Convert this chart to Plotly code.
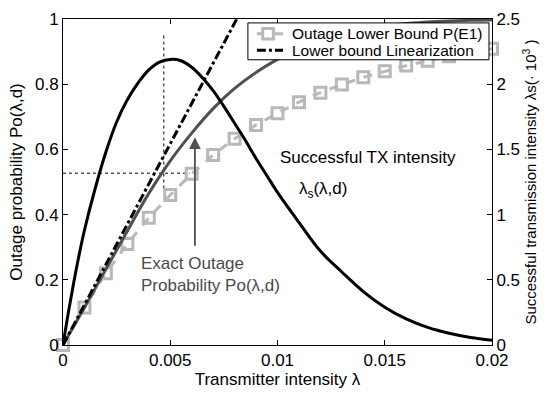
import plotly.graph_objects as go

# ---- data ----
lam_po = [0, 0.001, 0.002, 0.003, 0.004, 0.005, 0.006, 0.007, 0.008, 0.009, 0.010,
          0.011, 0.012, 0.013, 0.014, 0.015, 0.016, 0.017, 0.018, 0.019, 0.020]
po_exact = [0.0, 0.115, 0.232, 0.35, 0.465, 0.565, 0.65, 0.725, 0.787, 0.836, 0.876,
            0.91, 0.935, 0.955, 0.97, 0.98, 0.986, 0.991, 0.994, 0.996, 0.997]
po_lower = [0.0, 0.115, 0.22, 0.31, 0.39, 0.46, 0.525, 0.583, 0.633, 0.675, 0.711,
            0.745, 0.774, 0.799, 0.821, 0.84, 0.857, 0.872, 0.886, 0.898, 0.909]

lam_lin = [0.0, 0.0081]
po_lin = [0.0, 1.0]

lam_s = [0, 0.00025, 0.0005, 0.00075, 0.001, 0.0015, 0.002, 0.0025, 0.003, 0.0035,
         0.004, 0.0045, 0.005, 0.0055, 0.006, 0.0065, 0.007, 0.0075, 0.008, 0.0085,
         0.009, 0.0095, 0.010, 0.011, 0.012, 0.013, 0.014, 0.015, 0.016, 0.017,
         0.018, 0.019, 0.020]
succ = [0.0, 0.25, 0.48, 0.69, 0.88, 1.2, 1.48, 1.71, 1.88, 2.01,
        2.11, 2.17, 2.19, 2.18, 2.13, 2.05, 1.95, 1.83, 1.70, 1.57,
        1.43, 1.30, 1.17, 0.94, 0.72, 0.56, 0.41, 0.29, 0.20, 0.135,
        0.09, 0.058, 0.037]

vdot_x = [0.0047, 0.0047]
vdot_y = [0.48, 0.955]
hdot_x = [0.0, 0.0059]
hdot_y = [0.527, 0.527]

arrow_x = 0.00615
arrow_tail = 0.30
arrow_tip = 0.637

xticks = [0, 0.005, 0.01, 0.015, 0.02]
xticklabels = ["0", "0.005", "0.01", "0.015", "0.02"]
yticks = [0, 0.2, 0.4, 0.6, 0.8, 1]
yticklabels = ["0", "0.2", "0.4", "0.6", "0.8", "1"]
y2ticks = [0, 0.5, 1, 1.5, 2, 2.5]
y2ticklabels = ["0", "0.5", "1", "1.5", "2", "2.5"]

legend_labels = ["Outage Lower Bound P(E1)", "Lower bound Linearization"]

FONT = "Liberation Sans, Arial, Helvetica, sans-serif"
GRAY = "#b8b8b8"
DGRAY = "#505050"

fig = go.Figure()

# dotted guide lines
fig.add_trace(go.Scatter(x=vdot_x, y=vdot_y, mode="lines", showlegend=False,
                         line=dict(color="black", width=1, dash="dot")))
fig.add_trace(go.Scatter(x=hdot_x, y=hdot_y, mode="lines", showlegend=False,
                         line=dict(color="black", width=1, dash="dot")))

# lower bound P(E1)
fig.add_trace(go.Scatter(x=lam_po, y=po_lower, mode="lines+markers",
                         name=legend_labels[0], cliponaxis=False, showlegend=False,
                         line=dict(color=GRAY, width=3, dash="dash"),
                         marker=dict(symbol="square-open", size=11, color=GRAY,
                                     line=dict(width=3, color=GRAY))))
# exact outage probability
fig.add_trace(go.Scatter(x=lam_po, y=po_exact, mode="lines", showlegend=False,
                         line=dict(color=DGRAY, width=3, shape="spline", smoothing=1)))
# linearization
fig.add_trace(go.Scatter(x=lam_lin, y=po_lin, mode="lines", showlegend=False,
                         name=legend_labels[1],
                         line=dict(color="black", width=3, dash="dashdot")))
# successful transmission intensity (right axis)
fig.add_trace(go.Scatter(x=lam_s, y=succ, mode="lines", showlegend=False, yaxis="y2",
                         line=dict(color="black", width=3, shape="spline", smoothing=1)))

fig.add_annotation(x=arrow_x, y=arrow_tip, ax=arrow_x, ay=arrow_tail,
                   xref="x", yref="y", axref="x", ayref="y", text="",
                   showarrow=True, arrowhead=2, arrowsize=1.3, arrowwidth=1.8,
                   arrowcolor=DGRAY)
fig.add_annotation(x=0.00355, y=0.215, xref="x", yref="y", xanchor="left", yanchor="middle",
                   text="Exact Outage<br>Probability Po(λ,d)", showarrow=False, align="left",
                   font=dict(family=FONT, size=17, color="#4a4a4a"))
fig.add_annotation(x=0.0100, y=0.576, xref="x", yref="y", xanchor="left", yanchor="middle",
                   text="Successful TX intensity", showarrow=False,
                   font=dict(family=FONT, size=17, color="black"))
fig.add_annotation(x=0.0109, y=0.475, xref="x", yref="y", xanchor="left", yanchor="middle",
                   text="λ<sub>s</sub>(λ,d)", showarrow=False,
                   font=dict(family=FONT, size=17, color="black"))

# ---- legend box (drawn in paper coordinates) ----
lx0, lx1, ly0, ly1 = 0.431, 0.993, 0.875, 0.988
row_y = [0.955, 0.904]
sx0, sx1, mx = 0.452, 0.513, 0.478
fig.add_shape(type="rect", xref="paper", yref="paper", x0=lx0, x1=lx1, y0=ly0, y1=ly1,
              line=dict(color="black", width=1), fillcolor="white", layer="above")
fig.add_shape(type="line", xref="paper", yref="paper", x0=sx0, x1=sx1, y0=row_y[0], y1=row_y[0],
              line=dict(color=GRAY, width=3, dash="dash"), layer="above")
fig.add_shape(type="rect", xref="paper", yref="paper", x0=mx - 0.0125, x1=mx + 0.0125,
              y0=row_y[0] - 0.016, y1=row_y[0] + 0.016,
              line=dict(color=GRAY, width=3), fillcolor="white", layer="above")
fig.add_shape(type="line", xref="paper", yref="paper", x0=sx0, x1=sx1, y0=row_y[1], y1=row_y[1],
              line=dict(color="black", width=3, dash="dashdot"), layer="above")
for lbl, ry in zip(legend_labels, row_y):
    fig.add_annotation(x=0.528, y=ry, xref="paper", yref="paper", xanchor="left",
                       yanchor="middle", text=lbl, showarrow=False,
                       font=dict(family=FONT, size=15.5, color="black"))

axis_common = dict(showgrid=False, zeroline=False, showline=True, linecolor="black",
                   linewidth=1, ticks="inside", ticklen=5, tickcolor="black",
                   tickfont=dict(family=FONT, size=17, color="black"))

fig.update_layout(
    width=557, height=394,
    margin=dict(l=63, r=65, t=10, b=49),
    paper_bgcolor="white", plot_bgcolor="white",
    font=dict(family=FONT, size=16, color="black"),
    showlegend=False,
    xaxis=dict(range=[0, 0.02], tickvals=xticks, ticktext=xticklabels, mirror="ticks",
               title=dict(text="Transmitter intensity λ", standoff=1,
                          font=dict(family=FONT, size=17)),
               **axis_common),
    yaxis=dict(range=[0, 1], tickvals=yticks, ticktext=yticklabels,
               title=dict(text="Outage probability Po(λ,d)", standoff=8,
                          font=dict(family=FONT, size=17)),
               **axis_common),
    yaxis2=dict(range=[0, 2.5], tickvals=y2ticks, ticktext=y2ticklabels,
                overlaying="y", side="right",
                title=dict(text="Successful transmission intensity λs(· 10<sup>3</sup> )",
                           standoff=4, font=dict(family=FONT, size=15)),
                **axis_common),
)

fig.write_html("out.html")
